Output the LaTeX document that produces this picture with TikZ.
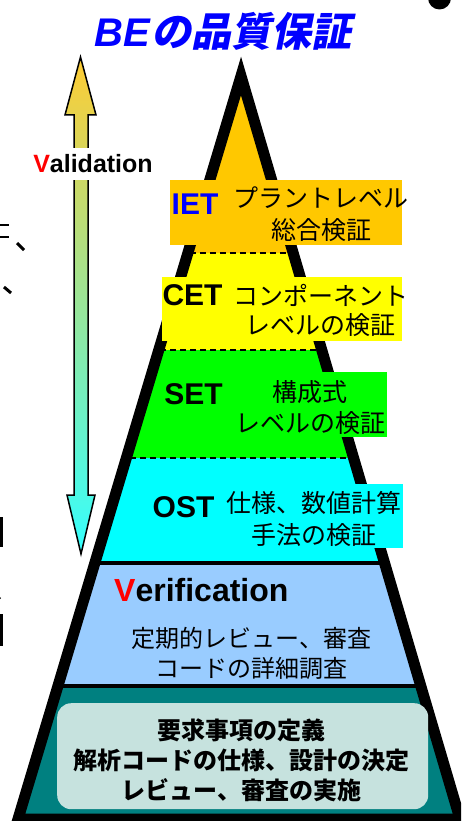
\documentclass[tikz,border=0pt]{standalone}
\usepackage{fontspec}
\setmainfont{Liberation Sans}
\newfontfamily\jp{Noto Sans CJK JP}
\newfontfamily\jpsl[FakeSlant=0.2]{Noto Sans CJK JP}
\definecolor{ietc}{RGB}{255,200,0}
\definecolor{cetc}{RGB}{255,255,0}
\definecolor{setc}{RGB}{0,255,0}
\definecolor{ostc}{RGB}{0,255,255}
\definecolor{verc}{RGB}{153,204,255}
\definecolor{basec}{RGB}{0,128,128}
\definecolor{paleteal}{RGB}{198,226,222}
\definecolor{titleblue}{RGB}{0,0,255}
\definecolor{vred}{RGB}{255,0,0}
\definecolor{arrtop}{RGB}{255,204,51}
\definecolor{arrbot}{RGB}{51,255,255}
\tikzset{
  lbl/.style={font=\fontsize{30}{30}\selectfont\bfseries, inner sep=0},
  jptxt/.style={font=\jp\fontsize{25}{32}\selectfont, align=center, inner sep=0},
  labelbox/.style={inner sep=0, anchor=north west, draw=none},
  dashsep/.style={line width=1.5pt, dash pattern=on 6pt off 4pt},
  solidsep/.style={line width=4pt},
}
\begin{document}
\begin{tikzpicture}[x=1pt,y=-1pt]
\useasboundingbox (0,0) rectangle (461,821);
\clip (0,0) rectangle (461,821);
\fill[white] (0,0) rectangle (461,821);

% pyramid geometry
\coordinate (A) at (241,76);
\coordinate (L) at (18,819);
\coordinate (R) at (460,819);

\begin{scope}
  \clip (A) -- (L) -- (R) -- cycle;
  \fill[ietc] (0,0) rectangle (461,253);
  \fill[cetc] (0,253) rectangle (461,350);
  \fill[setc] (0,350) rectangle (461,458);
  \fill[ostc] (0,458) rectangle (461,563);
  \fill[verc] (0,563) rectangle (461,686);
  \fill[basec] (0,686) rectangle (461,830);
  \draw[dashsep] (0,253) -- (461,253);
  \draw[dashsep] (0,350) -- (461,350);
  \draw[dashsep] (0,458) -- (461,458);
  \draw[solidsep] (0,563) -- (461,563);
  \draw[solidsep] (0,686) -- (461,686);
\end{scope}
\draw[line width=11pt, line join=miter] (A) -- (L) -- (R) -- cycle;

% label boxes
\node[labelbox, fill=ietc, minimum width=232pt, minimum height=65pt] (ietbox) at (170,180) {};
\node[labelbox, fill=cetc, minimum width=240pt, minimum height=64pt] (cetbox) at (162,277) {};
\node[labelbox, fill=setc, minimum width=227pt, minimum height=65pt] (setbox) at (160,372) {};
\node[labelbox, fill=ostc, minimum width=255pt, minimum height=64pt] (ostbox) at (148,484) {};

% layer labels
\node[lbl, text=titleblue] (iet) at (195,204) {IET};
\node[jptxt] (ietjp) at (321,214.5) {プラントレベル\\総合検証};
\node[lbl] (cet) at (192.5,295.5) {CET};
\node[jptxt, font=\jp\fontsize{25}{29.5}\selectfont] (cetjp) at (320.5,310.5) {コンポーネント\\レベルの検証};
\node[lbl] (set) at (193.5,394) {SET};
\node[jptxt, font=\jp\fontsize{25}{31}\selectfont] (setjp) at (310,407.5) {構成式\\レベルの検証};
\node[lbl] (ost) at (183.5,507.5) {OST};
\node[jptxt] (ostjp) at (314,519) {仕様、数値計算\\手法の検証};

% verification
\node[inner sep=0, anchor=west, font=\fontsize{32}{32}\selectfont\bfseries] (ver) at (114,590)
  {\textcolor{vred}{V}erification};
\node[jptxt, font=\jp\fontsize{24}{30}\selectfont] (verjp) at (251.5,653) {定期的レビュー、審査\\コードの詳細調査};

% base box
\node[labelbox, fill=paleteal, rounded corners=14pt, minimum width=371pt, minimum height=106pt] (basebox) at (57,703) {};
\node[jptxt, font=\jp\bfseries\fontsize{24}{30}\selectfont] (basejp) at (241.5,760)
  {要求事項の定義\\解析コードの仕様、設計の決定\\レビュー、審査の実施};

% validation double arrow
\shade[top color=arrtop, bottom color=arrbot, draw=black, line width=1.5pt, line join=miter]
  (80.5,57) -- (96,115) -- (88,115) -- (88,495) -- (95,495) -- (81,554)
  -- (67,495) -- (74,495) -- (74,115) -- (65,115) -- cycle;
\node[fill=white, inner xsep=2pt, minimum height=32pt, font=\fontsize{25}{25}\selectfont\bfseries] (val) at (93,164)
  {\textcolor{vred}{V}alidation};

% title
\node[inner sep=0, text=titleblue, font=\fontsize{40}{40}\selectfont\bfseries] (title) at (223,31)
  {\textit{BE}{\jpsl の品質保証}};

% slide fragments at the edges
\fill (439.5,-2) circle (11.5);
\draw[line width=2pt] (0,225) -- (9,225);
\draw[line width=2pt] (0,237) -- (9,237);
\draw[line width=3pt] (17,243) -- (24,250);
\draw[line width=3pt] (4,287) -- (11,293);
\draw[line width=3pt] (1,517) -- (1,547);
\draw[line width=3pt] (1,614) -- (1,646);
\fill (0,598) circle (1);
\end{tikzpicture}
\end{document}
